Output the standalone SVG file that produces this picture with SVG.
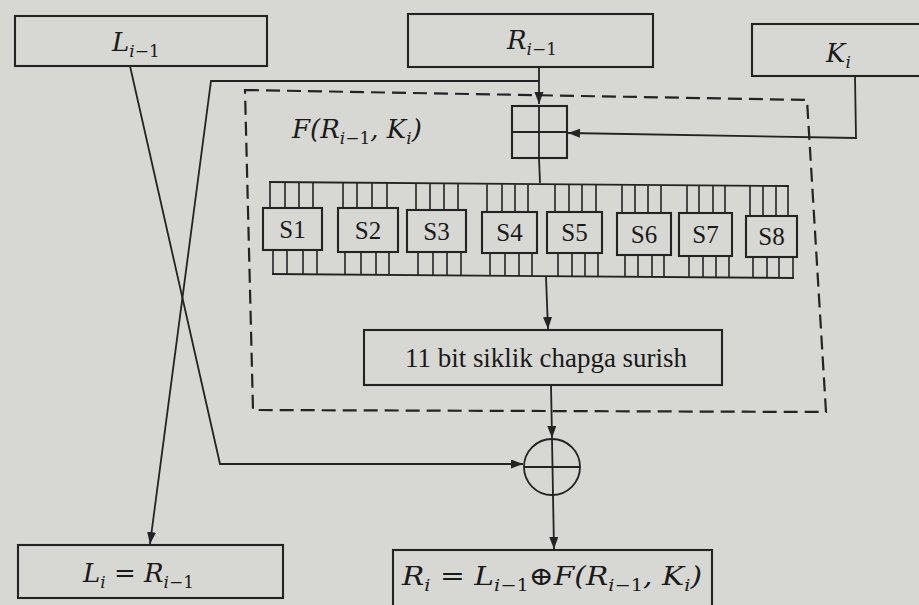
<svg xmlns="http://www.w3.org/2000/svg" width="919" height="605" viewBox="0 0 919 605">
<defs>
<marker id="ah" markerUnits="userSpaceOnUse" markerWidth="13" markerHeight="10" refX="12" refY="4.5" orient="auto">
<path d="M0,0 L12,4.5 L0,9 Z" fill="#232323"/>
</marker>
<style>
.bx{fill:none;stroke:#232323;stroke-width:2.1}
.ln{fill:none;stroke:#232323;stroke-width:1.8}
.w{fill:none;stroke:#232323;stroke-width:1.6}
.dash{fill:none;stroke:#232323;stroke-width:2.2;stroke-dasharray:14 7}
.m{font-family:"DejaVu Serif","Liberation Serif",serif;font-style:italic;fill:#1a1a1a;font-size:26px}
.up{font-style:normal}
.s{font-family:"Liberation Serif",serif;fill:#1a1a1a;font-size:25px;text-anchor:middle}
</style>
</defs>
<rect x="0" y="0" width="919" height="605" fill="#d7d7d3"/>

<g id="connectors">
<path class="ln" d="M539,67 V104" marker-end="url(#ah)"/>
<path class="ln" d="M539,81 H211 L150,544" marker-end="url(#ah)"/>
<path class="ln" d="M130,66 L220,464 H523" marker-end="url(#ah)"/>
<path class="ln" d="M855,76 L856,138 L568,133" marker-end="url(#ah)"/>
<path class="ln" d="M539,158 L540,183"/>
<path class="ln" d="M546,277 L548,329" marker-end="url(#ah)"/>
<path class="ln" d="M551,385 L552,438" marker-end="url(#ah)"/>
<path class="ln" d="M553,495 L554,549" marker-end="url(#ah)"/>
</g>

<g id="L_prev">
<rect class="bx" x="15" y="16" width="252" height="50"/>
<text class="m" x="112" y="51">L<tspan dy="6" font-size="17">i</tspan><tspan class="up" font-size="17">−1</tspan></text>
</g>

<g id="R_prev">
<rect class="bx" x="408" y="14" width="245" height="53"/>
<text class="m" x="507" y="49">R<tspan dy="6" font-size="17">i</tspan><tspan class="up" font-size="17">−1</tspan></text>
</g>

<g id="K_i">
<rect class="bx" x="752" y="24" width="180" height="52"/>
<text class="m" x="826" y="62">K<tspan dy="6" font-size="17">i</tspan></text>
</g>

<g id="F_block">
<path class="dash" d="M245,90 L807,100 L826,412 L253,410 Z"/>
<text class="m" x="292" y="138">F(R<tspan dy="6" font-size="17">i</tspan><tspan class="up" font-size="17">−1</tspan><tspan dy="-6">, K</tspan><tspan dy="6" font-size="17">i</tspan><tspan dy="-6">)</tspan></text>
</g>

<g id="adder">
<rect class="bx" x="512" y="106" width="55" height="52"/>
<line class="ln" x1="539" y1="106" x2="539" y2="158"/>
<line class="ln" x1="512" y1="132" x2="567" y2="132"/>
</g>

<g id="sbox_bus">
<line class="ln" x1="269" y1="182" x2="789" y2="186"/>
<line class="ln" x1="272" y1="274" x2="794" y2="278"/>
</g>

<g id="S1">
<path class="w" d="M270,182.5V208M285,182.6V208M299,182.7V208M313,182.8V208M273,250V274M287,250V274.1M303,250V274.2M317,250V274.3"/>
<rect class="bx" x="263" y="208" width="59" height="42"/>
<text class="s" x="292.5" y="238">S1</text>
</g>
<g id="S2">
<path class="w" d="M343,183V208M357,183.1V208M372,183.2V208M387,183.3V208M345,252V274.6M361,252V274.7M376,252V274.8M389,252V274.9"/>
<rect class="bx" x="338" y="208" width="60" height="44"/>
<text class="s" x="368" y="239">S2</text>
</g>
<g id="S3">
<path class="w" d="M416,183.6V210M430,183.7V210M444,183.8V210M458,183.9V210M418,252V275.2M433,252V275.3M447,252V275.4M461,252V275.5"/>
<rect class="bx" x="407" y="210" width="59" height="42"/>
<text class="s" x="436.5" y="240">S3</text>
</g>
<g id="S4">
<path class="w" d="M487,184.2V212M502,184.3V212M515,184.4V212M528,184.5V212M490,253V275.8M505,253V275.9M519,253V276M532,253V276.1"/>
<rect class="bx" x="482" y="212" width="55" height="41"/>
<text class="s" x="509.5" y="241">S4</text>
</g>
<g id="S5">
<path class="w" d="M555,184.7V212M569,184.8V212M582,184.9V212M596,185V212M558,253V276.3M572,253V276.4M585,253V276.5M598,253V276.6"/>
<rect class="bx" x="547" y="212" width="55" height="41"/>
<text class="s" x="574.5" y="241">S5</text>
</g>
<g id="S6">
<path class="w" d="M622,185.2V213M635,185.3V213M648,185.4V213M661,185.5V213M625,255V276.8M638,255V276.9M652,255V277M664,255V277.1"/>
<rect class="bx" x="617" y="213" width="54" height="42"/>
<text class="s" x="644" y="243">S6</text>
</g>
<g id="S7">
<path class="w" d="M687,185.7V213M699,185.8V213M713,185.9V213M725,186V213M689,256V277.3M703,256V277.4M716,256V277.5M729,256V277.6"/>
<rect class="bx" x="679" y="213" width="53" height="43"/>
<text class="s" x="705.5" y="243">S7</text>
</g>
<g id="S8">
<path class="w" d="M750,186V216M763,186V216M776,186V216M788,186V216M753,257V277.8M767,257V277.9M779,257V278M793,257V278"/>
<rect class="bx" x="746" y="216" width="51" height="41"/>
<text class="s" x="771.5" y="245">S8</text>
</g>

<g id="shift">
<rect class="bx" x="364" y="330" width="358" height="55"/>
<text x="405" y="367" font-family="Liberation Serif, serif" font-size="27" fill="#1a1a1a" textLength="282" lengthAdjust="spacingAndGlyphs">11 bit siklik chapga surish</text>
</g>

<g id="xor">
<circle class="ln" cx="552" cy="467" r="28"/>
<line class="ln" x1="552" y1="439" x2="553" y2="495"/>
<line class="ln" x1="524" y1="467" x2="580" y2="467"/>
</g>

<g id="L_new">
<rect class="bx" x="18" y="545" width="265" height="53"/>
<text class="m" x="83" y="582">L<tspan dy="6" font-size="17">i</tspan><tspan dy="-6"> = R</tspan><tspan dy="6" font-size="17">i</tspan><tspan class="up" font-size="17">−1</tspan></text>
</g>

<g id="R_new">
<rect class="bx" x="393" y="550" width="319" height="62"/>
<text class="m" x="402" y="585" textLength="300" lengthAdjust="spacingAndGlyphs">R<tspan dy="6" font-size="17">i</tspan><tspan dy="-6"> = L</tspan><tspan dy="6" font-size="17">i</tspan><tspan class="up" font-size="17">−1</tspan><tspan dy="-6" class="up">⊕</tspan><tspan>F(R</tspan><tspan dy="6" font-size="17">i</tspan><tspan class="up" font-size="17">−1</tspan><tspan dy="-6">, K</tspan><tspan dy="6" font-size="17">i</tspan><tspan dy="-6">)</tspan></text>
</g>
</svg>
